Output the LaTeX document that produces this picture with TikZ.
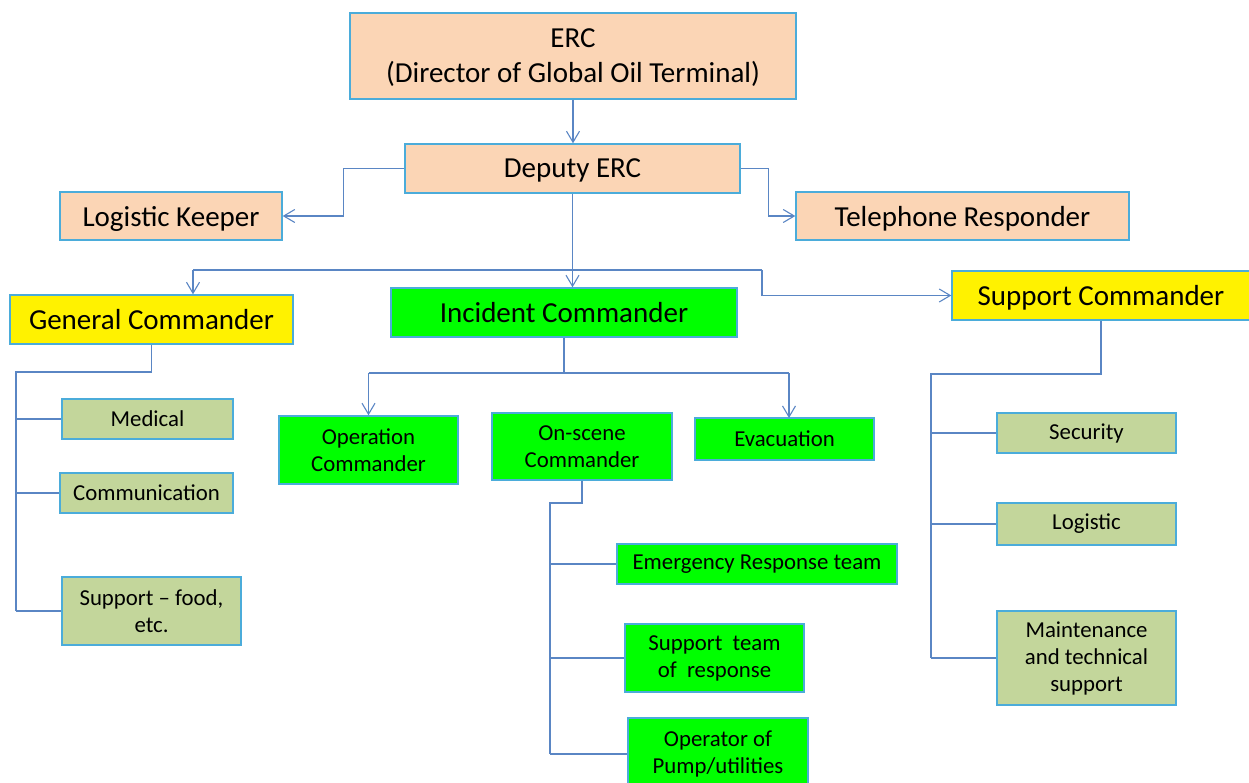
\documentclass[tikz,border=0pt]{standalone}
\usepackage{fontspec}
\setmainfont{Carlito}
\usetikzlibrary{arrows.meta}
\definecolor{peach}{HTML}{FBD5B5}
\definecolor{olive}{HTML}{C3D69B}
\definecolor{limegreen}{HTML}{00FF00}
\definecolor{boxedge}{HTML}{4BACDA}
\definecolor{wire}{HTML}{5A86C4}
\tikzset{
  box/.style={draw=boxedge, line width=1.4pt, inner sep=0pt, align=center, anchor=center},
  bigbox/.style={box, font=\fontsize{29}{35}\selectfont, text depth=0pt},
  smallbox/.style={box, font=\fontsize{22.8}{27}\selectfont},
  peachbox/.style={bigbox, fill=peach},
  yellowbox/.style={bigbox, fill=yellow},
  greenbig/.style={bigbox, fill=limegreen},
  greensmall/.style={smallbox, fill=limegreen},
  olivebox/.style={smallbox, fill=olive},
  wireline/.style={draw=wire, line width=1.2pt},
  arr/.style={wireline, -{Straight Barb[length=11pt, width=13pt, line width=1.1pt]}}
}
\begin{document}
\begin{tikzpicture}[x=1pt, y=-1pt]
\useasboundingbox (0,0) rectangle (1249,783);

% top of the chain
\node[peachbox, minimum width=446pt, minimum height=86pt] (erc) at (573,56) {ERC\\(Director of Global Oil Terminal)};
\node[peachbox, minimum width=335pt, minimum height=49pt] (dep) at (572.5,168.5) {Deputy ERC};
\node[peachbox, minimum width=222pt, minimum height=48pt] (lk) at (171,216) {Logistic Keeper};
\node[peachbox, minimum width=333pt, minimum height=48pt] (tel) at (962.5,216) {Telephone Responder};

% commanders
\node[yellowbox, minimum width=283pt, minimum height=49pt] (gen) at (151.5,319.5) {General Commander};
\node[greenbig, minimum width=346pt, minimum height=49pt] (inc) at (564,312.5) {Incident Commander};
\node[yellowbox, minimum width=298pt, minimum height=49pt] (sup) at (1101,295.5) {Support Commander};

% general commander's units
\node[olivebox, minimum width=171pt, minimum height=40pt] (med) at (147.5,419) {Medical};
\node[olivebox, minimum width=173pt, minimum height=40pt] (com) at (146.5,493) {Communication};
\node[olivebox, minimum width=179pt, minimum height=68pt] (food) at (151.5,611) {Support -- food,\\etc.};

% incident commander's units
\node[greensmall, minimum width=179pt, minimum height=68pt] (op) at (368.5,450) {Operation\\Commander};
\node[greensmall, minimum width=180pt, minimum height=67pt] (ons) at (582,446.5) {On-scene\\Commander};
\node[greensmall, minimum width=179pt, minimum height=42pt] (eva) at (784.5,439) {Evacuation};
\node[greensmall, minimum width=280pt, minimum height=40pt] (ert) at (757,564) {Emergency Response team};
\node[greensmall, minimum width=179pt, minimum height=68pt] (stm) at (714.5,658) {Support~ team\\of~ response};
\node[greensmall, minimum width=180pt, minimum height=72pt] (opp) at (718,754) {Operator of\\Pump/utilities};

% support commander's units
\node[olivebox, minimum width=179pt, minimum height=40pt] (sec) at (1086.5,433) {Security};
\node[olivebox, minimum width=179pt, minimum height=42pt] (log) at (1086.5,524) {Logistic};
\node[olivebox, minimum width=179pt, minimum height=94pt] (mnt) at (1086.5,658) {Maintenance\\and technical\\support};

% junction points
\coordinate (busL) at (193,270);
\coordinate (busR) at (762,270);
\coordinate (gtrunk) at (16,372);
\coordinate (itrunk) at (564,373);
\coordinate (otrunk) at (550,503);
\coordinate (strunk) at (931,374);

% connectors from the director and deputy
\draw[arr] (erc.south) -- (erc.south |- dep.north);
\draw[arr] (dep.west) -- ++(-61,0) |- (lk.east);
\draw[arr] (dep.east) -- ++(28,0) |- (tel.west);
\draw[arr] (dep.south) -- (dep.south |- inc.north);
\draw[wireline] (busL) -- (busR);
\draw[arr] (busL) -- (busL |- gen.north);
\draw[arr] (busR) |- (sup.west);

% general commander tree
\draw[wireline] (gen.south) |- (gtrunk) -- (gtrunk |- food.west);
\draw[wireline] (gtrunk |- med.west) -- (med.west);
\draw[wireline] (gtrunk |- com.west) -- (com.west);
\draw[wireline] (gtrunk |- food.west) -- (food.west);

% incident commander tree
\draw[wireline] (inc.south) -- (itrunk);
\draw[wireline] (op.north |- itrunk) -- (789,373);
\draw[arr] (op.north |- itrunk) -- (op.north);
\draw[arr] (789,373) -- (789,418);

% on-scene commander tree
\draw[wireline] (ons.south) |- (otrunk) -- (otrunk |- opp.west);
\draw[wireline] (otrunk |- ert.west) -- (ert.west);
\draw[wireline] (otrunk |- stm.west) -- (stm.west);
\draw[wireline] (otrunk |- opp.west) -- (opp.west);

% support commander tree
\draw[wireline] (sup.south) |- (strunk) -- (strunk |- mnt.west);
\draw[wireline] (strunk |- sec.west) -- (sec.west);
\draw[wireline] (strunk |- log.west) -- (log.west);
\draw[wireline] (strunk |- mnt.west) -- (mnt.west);
\end{tikzpicture}
\end{document}
